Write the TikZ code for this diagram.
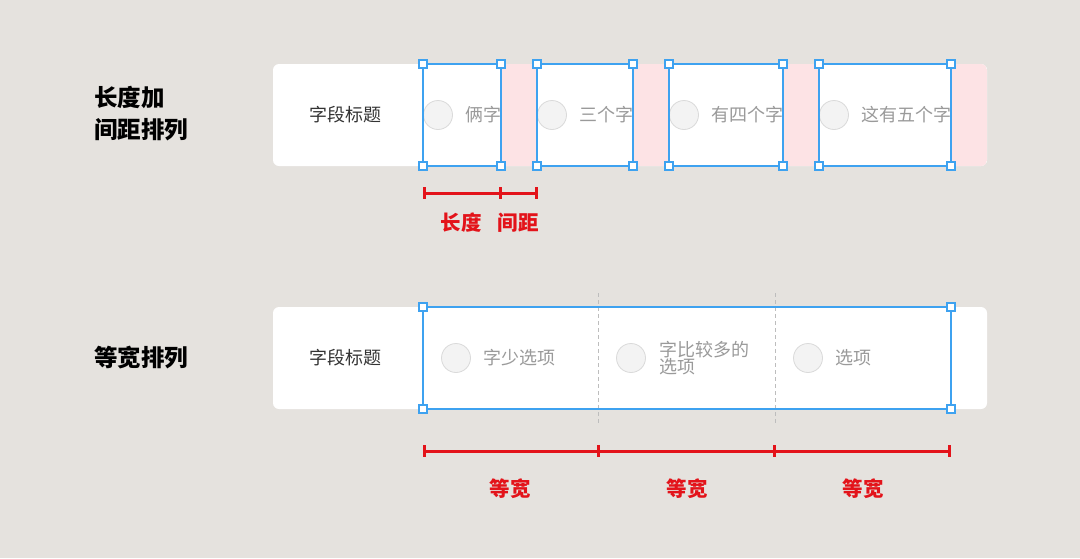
\documentclass[tikz,border=0pt]{standalone}
\usepackage{fontspec}
\setmainfont{Noto Sans CJK SC}
\usetikzlibrary{calc}
\definecolor{bgc}{HTML}{E5E2DE}
\definecolor{pinkc}{HTML}{FDE3E5}
\definecolor{bluec}{HTML}{3EA2F0}
\definecolor{redc}{HTML}{E3131A}
\definecolor{optc}{HTML}{9A9A9A}
\definecolor{radiof}{HTML}{F3F3F3}
\definecolor{radiod}{HTML}{DADADA}
\definecolor{titlec}{HTML}{333333}
\definecolor{dashc}{HTML}{BDBDBD}
\tikzset{
  panel/.style={fill=white, rounded corners=6pt, anchor=north west, minimum width=714pt, minimum height=102pt, inner sep=0pt, outer sep=0pt},
  selbox/.style={draw=bluec, line width=2pt, anchor=north west, minimum height=102pt, inner sep=0pt, outer sep=0pt},
  handle/.style={draw=bluec, fill=white, line width=1.3pt, minimum size=8pt, inner sep=0pt},
  radio/.style={circle, fill=radiof, draw=radiod, line width=0.8pt, minimum size=29pt, inner sep=0pt},
  opt/.style={anchor=west, inner sep=0pt, text=optc, font=\fontsize{18}{18}\selectfont},
  fieldtitle/.style={inner sep=0pt, text=titlec, font=\fontsize{18}{18}\selectfont},
  rowlabel/.style={anchor=west, inner sep=0pt, align=left, text=black, font=\fontsize{23.5}{32}\selectfont\bfseries},
  meas/.style={draw=redc, line width=3pt},
  mlabel/.style={inner sep=0pt, text=redc, font=\fontsize{20.5}{20.5}\selectfont\bfseries},
  divider/.style={draw=dashc, line width=1pt, dash pattern=on 4pt off 3pt},
}
\begin{document}
\begin{tikzpicture}[x=1pt,y=-1pt]
\fill[bgc] (0,0) rectangle (1080,558);
\useasboundingbox (0,0) rectangle (1080,558);

% ---------- top row ----------
\node[rowlabel] (lab1) at (94,114) {长度加\\间距排列};
\node[panel] (panel1) at (273,64) {};
\node[fieldtitle] (ft1) at (345,115) {字段标题};

\node[radio] (r1) at (438,115) {};
\node[opt] (t1) at (465,115) {俩字};
\node[radio] (r2) at (552,115) {};
\node[opt] (t2) at (579,115) {三个字};
\node[radio] (r3) at (684,115) {};
\node[opt] (t3) at (711,115) {有四个字};
\node[radio] (r4) at (834,115) {};
\node[opt] (t4) at (861,115) {这有五个字};

\fill[pinkc] (501,64) rectangle (537,166);
\fill[pinkc] (633,64) rectangle (669,166);
\fill[pinkc] (783,64) rectangle (819,166);
\begin{scope}
  \clip[rounded corners=6pt] (273,64) rectangle (987,166);
  \fill[pinkc] (951,64) rectangle (987,166);
\end{scope}

\node[selbox, minimum width=78pt] (b1) at (423,64) {};
\node[selbox, minimum width=96pt] (b2) at (537,64) {};
\node[selbox, minimum width=114pt] (b3) at (669,64) {};
\node[selbox, minimum width=132pt] (b4) at (819,64) {};
\foreach \b in {b1,b2,b3,b4}{
  \foreach \a in {north west,north east,south west,south east}{
    \node[handle] at (\b.\a) {};
  }
}

\coordinate (m1) at (424,193);
\coordinate (m2) at (500,193);
\coordinate (m3) at (536,193);
\draw[meas] (m1) -- (m3);
\foreach \m in {m1,m2,m3}{
  \draw[meas] ($(\m)+(0,-6)$) -- ($(\m)+(0,6)$);
}
\node[mlabel] (ml1) at (461,223) {长度};
\node[mlabel] (ml2) at (518,223) {间距};

% ---------- bottom row ----------
\node[rowlabel] (lab2) at (94,358) {等宽排列};
\node[panel] (panel2) at (273,307) {};
\node[fieldtitle] (ft2) at (345,358) {字段标题};

\coordinate (d1a) at (598,293);
\coordinate (d1b) at (598,423);
\coordinate (d2a) at (775,293);
\coordinate (d2b) at (775,423);
\draw[divider] (d1a) -- (d1b);
\draw[divider] (d2a) -- (d2b);

\node[radio] (r5) at (456,358) {};
\node[opt] (t5) at (483,358) {字少选项};
\node[radio] (r6) at (631,358) {};
\node[opt, align=left, font=\fontsize{18}{17}\selectfont] (t6) at (659,358) {字比较多的\\选项};
\node[radio] (r7) at (808,358) {};
\node[opt] (t7) at (835,358) {选项};

\node[selbox, minimum width=528pt] (b5) at (423,307) {};
\foreach \a in {north west,north east,south west,south east}{
  \node[handle] at (b5.\a) {};
}

\coordinate (n1) at (424,451);
\coordinate (n2) at (598,451);
\coordinate (n3) at (774,451);
\coordinate (n4) at (949,451);
\draw[meas] (n1) -- (n4);
\foreach \m in {n1,n2,n3,n4}{
  \draw[meas] ($(\m)+(0,-6)$) -- ($(\m)+(0,6)$);
}
\node[mlabel] (nl1) at (510,489) {等宽};
\node[mlabel] (nl2) at (687,489) {等宽};
\node[mlabel] (nl3) at (863,489) {等宽};
\end{tikzpicture}
\end{document}
